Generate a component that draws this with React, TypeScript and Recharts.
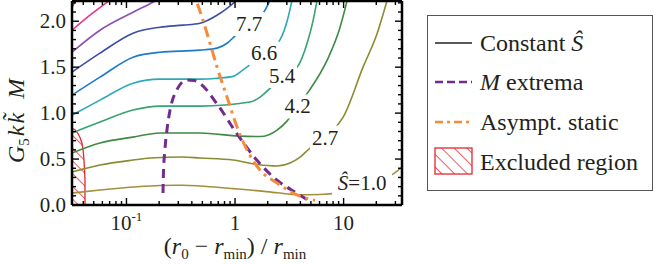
import React from 'react';
import { ComposedChart, Line, Area, XAxis, YAxis, ReferenceDot } from 'recharts';

const FONT = '"Liberation Serif", "Times New Roman", serif';
const INK = '#231f20';
const serif = { fontFamily: FONT };

// axis ticks
const xMajor = [0.1, 1, 10];
const xTicks = [0.04, 0.05, 0.06, 0.07, 0.08, 0.09, 0.1, 0.2, 0.3, 0.4, 0.5, 0.6, 0.7, 0.8, 0.9, 1, 2, 3, 4, 5, 6, 7, 8, 9, 10, 20, 30];
const yMajor = [0, 0.5, 1, 1.5, 2];
const yTicks = [0, 0.1, 0.2, 0.3, 0.4, 0.5, 0.6, 0.7, 0.8, 0.9, 1, 1.1, 1.2, 1.3, 1.4, 1.5, 1.6, 1.7, 1.8, 1.9, 2, 2.1, 2.2];

// contours of constant S-hat, [ (r0-rmin)/rmin , G5 k k~ M ]
const sHat10 = [[0.0315, 0.13], [0.057, 0.163], [0.115, 0.196], [0.204, 0.213], [0.332, 0.215], [0.476, 0.207], [0.958, 0.178], [1.375, 0.163], [2.44, 0.133], [3.73, 0.112], [6.07, 0.115], [9.28, 0.135], [15.1, 0.19], [24.1, 0.28], [28, 0.33], [34.5, 0.41]];
const sHat27 = [[0.0315, 0.359], [0.057, 0.435], [0.115, 0.489], [0.165, 0.511], [0.332, 0.522], [0.476, 0.511], [0.958, 0.489], [1.6, 0.44], [2.44, 0.424], [3.21, 0.457], [3.97, 0.522], [4.91, 0.62], [6.75, 0.734], [8.5, 0.85], [9.9, 0.957], [15.1, 1.5], [20.4, 1.87], [25.2, 2.23]];
const sHat42 = [[0.0315, 0.565], [0.057, 0.674], [0.115, 0.739], [0.204, 0.783], [0.476, 0.783], [1.09, 0.75], [1.7, 0.745], [2.44, 0.815], [3.01, 0.913], [3.77, 1.072], [4.71, 1.228], [7.05, 1.576], [9.28, 1.935], [10.8, 2.23]];
const sHat54 = [[0.0315, 0.783], [0.057, 0.902], [0.115, 1.033], [0.204, 1.076], [0.476, 1.076], [1.375, 1.12], [1.7, 1.174], [2.1, 1.27], [2.71, 1.404], [3.73, 1.5], [4.61, 1.76], [5.24, 2.01], [5.7, 2.23]];
const sHat66 = [[0.0315, 0.978], [0.057, 1.141], [0.115, 1.326], [0.204, 1.37], [0.476, 1.37], [0.682, 1.38], [0.958, 1.4], [1.185, 1.47], [1.85, 1.649], [2.6, 1.8], [3.08, 2.04], [3.35, 2.23]];
const sHat77 = [[0.0315, 1.196], [0.057, 1.391], [0.115, 1.609], [0.204, 1.663], [0.476, 1.685], [0.682, 1.707], [0.844, 1.76], [1.0, 1.84], [1.346, 1.97], [1.89, 2.12], [2.1, 2.23]];
const sHatUp1 = [[0.0315, 1.446], [0.057, 1.652], [0.115, 1.87], [0.204, 1.935], [0.332, 1.957], [0.476, 1.978], [0.682, 2.065], [0.844, 2.14], [1.043, 2.23]];
const sHatUp2 = [[0.0315, 1.663], [0.057, 1.902], [0.115, 2.098], [0.175, 2.207], [0.204, 2.25]];
const sHatUp3 = [[0.0315, 1.902], [0.0461, 2.065], [0.0705, 2.23]];
const sHatUp4 = [[0.0315, 2.152], [0.0342, 2.23]];

const mExtrema = [[0.217, 0.13], [0.219, 0.35], [0.226, 0.6], [0.238, 0.85], [0.252, 1.033], [0.29, 1.25], [0.358, 1.359], [0.42, 1.355], [0.476, 1.323], [0.678, 1.105], [1.036, 0.779], [1.585, 0.489], [2.42, 0.272], [3.7, 0.13], [4.6, 0.06]];
const asymptStatic = [[0.45, 2.19], [0.507, 2.01], [0.588, 1.76], [0.683, 1.5], [0.844, 1.174], [1.043, 0.848], [1.29, 0.598], [1.7, 0.38], [2.44, 0.239], [3.73, 0.109], [5.46, 0.05]];
const excluded = [[0.0315, 0.837], [0.0335, 0.82], [0.0357, 0.78], [0.0375, 0.73], [0.039, 0.67], [0.04, 0.58], [0.0406, 0.49], [0.0411, 0.38], [0.0415, 0.27], [0.0415, 0]];

// contour labels
const labelX = [1.346, 1.85, 2.71, 3.77, 6.75, 14.8];
const labelY = [1.97, 1.649, 1.404, 1.072, 0.734, 0.234];
const labelText = ['7.7', '6.6', '5.4', '4.2', '2.7', '=1.0'];

const pts = (a: number[][]) => a.map(([x, y]) => ({ x, y }));

const contours = [
  { id: 'c10', color: '#a38f3c', data: sHat10 },
  { id: 'c27', color: '#8b8b30', data: sHat27 },
  { id: 'c42', color: '#3e8a42', data: sHat42 },
  { id: 'c54', color: '#33a472', data: sHat54 },
  { id: 'c66', color: '#2ea9b6', data: sHat66 },
  { id: 'c77', color: '#1c7bc6', data: sHat77 },
  { id: 'u1', color: '#3b4ea5', data: sHatUp1 },
  { id: 'u2', color: '#8a50b4', data: sHatUp2 },
  { id: 'u3', color: '#e8378c', data: sHatUp3 },
  { id: 'u4', color: '#e53a3a', data: sHatUp4 },
];

const X_DOMAIN = [0.0315, 34.5];
const Y_DOMAIN = [0, 2.22];

const BottomTick = ({ x, y, payload }: any) => {
  const v = payload.value;
  const major = xMajor.includes(v);
  return (
    <g>
      <line x1={x} x2={x} y1={y} y2={y - (major ? 7 : 4)} stroke="#000" strokeWidth={1.4} />
      {major && (
        <text x={x} y={y + 25} textAnchor="middle" fontSize={21} fill={INK} style={serif}>
          {v === 0.1 ? (<><tspan>10</tspan><tspan dy={-9} fontSize={13}>-1</tspan></>) : v}
        </text>
      )}
    </g>
  );
};

const TopTick = ({ x, y, payload }: any) => (
  <line x1={x} x2={x} y1={y} y2={y + (xMajor.includes(payload.value) ? 7 : 4)} stroke="#000" strokeWidth={1.4} />
);

const LeftTick = ({ x, y, payload }: any) => {
  const v = payload.value;
  const major = yMajor.includes(v);
  return (
    <g>
      <line x1={x} x2={x + (major ? 7 : 4)} y1={y} y2={y} stroke="#000" strokeWidth={1.4} />
      {major && (
        <text x={x - 6} y={y + 7} textAnchor="end" fontSize={21} fill={INK} style={serif}>
          {v.toFixed(1)}
        </text>
      )}
    </g>
  );
};

const RightTick = ({ x, y, payload }: any) => (
  <line x1={x} x2={x - (yMajor.includes(payload.value) ? 7 : 4)} y1={y} y2={y} stroke="#000" strokeWidth={1.4} />
);

const ContourLabel = ({ cx, cy, text }: any) => {
  const hat = text.startsWith('=');
  const w = hat ? 60 : 30;
  return (
    <g>
      <rect x={cx - w / 2} y={cy - 12} width={w} height={24} fill="#fff" />
      <text x={cx} y={cy + 7} textAnchor="middle" fontSize={21} fill={INK} style={serif}>
        {hat && <tspan fontStyle="italic">Ŝ</tspan>}
        {text}
      </text>
    </g>
  );
};

const XTitle = () => (
  <text x={235} y={254} textAnchor="middle" fontSize={24} fill={INK} style={serif}>
    (<tspan fontStyle="italic">r</tspan>
    <tspan fontSize={15} dy={5}>0</tspan>
    <tspan dy={-5}> − </tspan>
    <tspan fontStyle="italic">r</tspan>
    <tspan fontSize={15} dy={5}>min</tspan>
    <tspan dy={-5}>) / </tspan>
    <tspan fontStyle="italic">r</tspan>
    <tspan fontSize={15} dy={5}>min</tspan>
  </text>
);

const YTitle = () => (
  <text transform="rotate(-90)" x={-163} y={24} textAnchor="start" fontSize={24} fill={INK} style={serif}>
    <tspan fontStyle="italic">G</tspan>
    <tspan fontSize={15} dy={5}>5</tspan>
    <tspan dy={-5} dx={2} fontStyle="italic">k</tspan>
    <tspan dx={2} fontStyle="italic">{'k\u0303'}</tspan>
    <tspan dx={14} fontStyle="italic">M</tspan>
  </text>
);

const LegendBox = () => (
  <svg width={654} height={264} style={{ position: 'absolute', left: 0, top: 0, pointerEvents: 'none' }}>
    <defs>
      <pattern id="hatchLegend" width="9" height="9" patternUnits="userSpaceOnUse" patternTransform="rotate(-45)">
        <line x1="0" y1="0" x2="0" y2="9" stroke="#e8262b" strokeWidth={1.5} />
      </pattern>
    </defs>
    <rect x={427.5} y={15.5} width={225} height={175} fill="#fff" stroke="#555" strokeWidth={1} />
    <g fontSize={24} fill={INK} style={serif}>
      <line x1={435} x2={472} y1={43} y2={43} stroke="#222" strokeWidth={1.5} />
      <text x={480} y={51}>Constant <tspan fontStyle="italic">Ŝ</tspan></text>
      <line x1={435} x2={472} y1={82} y2={82} stroke="#732c8c" strokeWidth={2.5} strokeDasharray="8 4" />
      <text x={480} y={90}><tspan fontStyle="italic">M</tspan> extrema</text>
      <line x1={435} x2={472} y1={122} y2={122} stroke="#f78a3a" strokeWidth={2.5} strokeDasharray="8 4 3 4" />
      <text x={480} y={130}>Asympt. static</text>
      <rect x={435} y={148} width={37} height={26} fill="url(#hatchLegend)" stroke="#e8262b" strokeWidth={1.3} />
      <text x={480} y={170}>Excluded region</text>
    </g>
  </svg>
);

export default function App() {
  return (
    <div style={{ position: 'absolute', left: 0, top: 0, width: 654, height: 264, background: '#fff', fontFamily: FONT }}>
      <ComposedChart width={654} height={264} data={pts(excluded)} margin={{ top: 0, right: 250, bottom: 0, left: 0 }} style={serif}>
        <defs>
          <pattern id="hatch" width="9" height="9" patternUnits="userSpaceOnUse" patternTransform="rotate(-45)">
            <line x1="0" y1="0" x2="0" y2="9" stroke="#e8262b" strokeWidth={1.5} />
          </pattern>
        </defs>
        <XAxis
          dataKey="x"
          type="number"
          scale="log"
          domain={X_DOMAIN}
          allowDataOverflow
          ticks={xTicks}
          interval={0}
          tickSize={0}
          tickMargin={0}
          tickLine={false}
          tick={<BottomTick />}
          height={59}
          axisLine={{ stroke: '#000', strokeWidth: 2.5 }}
          label={{ content: () => <XTitle /> }}
        />
        <XAxis
          xAxisId="top"
          orientation="top"
          dataKey="x"
          type="number"
          scale="log"
          domain={X_DOMAIN}
          allowDataOverflow
          ticks={xTicks}
          interval={0}
          tickSize={0}
          tickMargin={0}
          tickLine={false}
          tick={<TopTick />}
          height={1}
          axisLine={{ stroke: '#000', strokeWidth: 2.5 }}
        />
        <YAxis
          type="number"
          domain={Y_DOMAIN}
          allowDataOverflow
          ticks={yTicks}
          interval={0}
          tickSize={0}
          tickMargin={0}
          tickLine={false}
          tick={<LeftTick />}
          width={72}
          axisLine={{ stroke: '#000', strokeWidth: 2.5 }}
          label={{ content: () => <YTitle /> }}
        />
        <YAxis
          yAxisId="right"
          orientation="right"
          type="number"
          domain={Y_DOMAIN}
          allowDataOverflow
          ticks={yTicks}
          interval={0}
          tickSize={0}
          tickMargin={0}
          tickLine={false}
          tick={<RightTick />}
          width={2}
          axisLine={{ stroke: '#000', strokeWidth: 2.5 }}
        />
        <Area type="linear" dataKey="y" fill="url(#hatch)" fillOpacity={1} stroke="#e8262b" strokeWidth={1.3} isAnimationActive={false} />
        {contours.map((c) => (
          <Line key={c.id} data={pts(c.data)} type="monotone" dataKey="y" stroke={c.color} strokeWidth={1.6} dot={false} isAnimationActive={false} />
        ))}
        <Line data={pts(mExtrema)} type="monotone" dataKey="y" stroke="#732c8c" strokeWidth={3} strokeDasharray="9 6" dot={false} isAnimationActive={false} />
        <Line data={pts(asymptStatic)} type="monotone" dataKey="y" stroke="#f78a3a" strokeWidth={3} strokeDasharray="11 5 3 5" dot={false} isAnimationActive={false} />
        {labelText.map((t, i) => (
          <ReferenceDot key={t} x={labelX[i]} y={labelY[i]} r={1} shape={(p: any) => <ContourLabel cx={p.cx} cy={p.cy} text={t} />} />
        ))}
      </ComposedChart>
      <LegendBox />
    </div>
  );
}
